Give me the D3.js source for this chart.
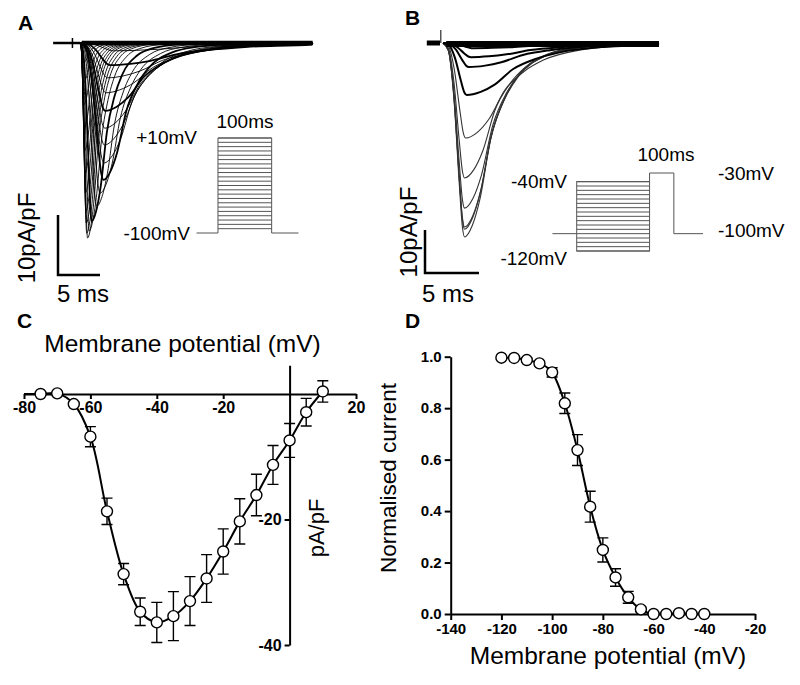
<!DOCTYPE html>
<html><head><meta charset="utf-8">
<script src="https://cdn.jsdelivr.net/npm/d3@7"></script>
<style>
body{margin:0;background:#fff}
svg{display:block}
text{font-family:'Liberation Sans',Arial,Helvetica,sans-serif;fill:#000}
</style>
</head><body><svg id="c" width="800" height="685"></svg>
<script>
// ---------------- DATA ----------------
// Panel A: current family (peak amplitude pA/pF, time to peak ms, half-decay ms)
const aAmp  = [1.3, 3.7, 5.8, 8.3, 11.3, 14.2, 17, 20, 22.8, 25, 27.2, 29.7, 31.3, 32.5, 31.7, 30, 28, 25, 21.7, 18, 14.2, 10.3, 6.7, 3.3];
const aPeak = [4.0, 3.6, 3.3, 3.1, 3.0, 2.95, 2.9, 2.85, 2.8, 2.4, 2.0, 1.4, 1.1, 0.9, 0.8, 0.75, 0.7, 0.65, 0.6, 0.55, 0.5, 0.45, 0.4, 0.4];
const aHalf = [9, 8, 6.5, 5.5, 4.6, 4.1, 3.7, 3.3, 2.7, 2.4, 2.1, 1.8, 1.5, 1.3, 1.2, 1.1, 1.0, 0.95, 0.9, 0.85, 0.8, 0.75, 0.7, 0.7];
const aBold = [1, 4, 8, 11];
// Panel A protocol (mV)
const aHold = -100;
const aSteps = [-95,-90,-85,-80,-75,-70,-65,-60,-55,-50,-45,-40,-35,-30,-25,-20,-15,-10,-5,0,5,10];

// Panel B: inactivation family
const bAmp  = [45.1, 43.3, 42.8, 38.4, 31.4, 22.1, 12.1, 5.6, 3.3, 1.2, 0.7, 0.5, 0.2, 0.1, 0, 0, 0];
const bPeak = [2.0, 2.0, 2.0, 2.0, 2.0, 2.1, 2.2, 2.4, 2.6, 2.8, 3, 3, 3, 3, 3, 3, 3];
const bHalf = [2.4, 2.45, 2.5, 2.6, 2.8, 3.6, 4.3, 5, 5.5, 6, 6, 6, 6, 6, 6, 6, 6];
// Panel B protocol (mV)
const bHold = -100;
const bPre = [-120,-115,-110,-105,-100,-95,-90,-85,-80,-75,-70,-65,-60,-55,-50,-45,-40];
const bTest = -30;

// Normalised trace shapes read from the records
const riseShape  = [[0,0],[0.25,0.04],[0.5,0.28],[0.75,0.72],[0.9,0.95],[1,1]];
const decayShape = [[0,1],[0.3,0.94],[0.6,0.8],[1,0.5],[1.5,0.3],[2,0.18],[3,0.07],[4,0.03],[6,0.006],[8,0]];

// Panel C: I-V
const cV   = [-75,-70,-65,-60,-55,-50,-45,-40,-35,-30,-25,-20,-15,-10,-5,0,5,10];
const cI   = [0, 0.1, -1.6, -6.8, -18.7, -28.7, -34.7, -36.4, -35.4, -33.0, -29.4, -25.1, -20.3, -16.1, -11.3, -7.4, -2.9, 0.4];
const cErr = [0.2, 0.2, 0.3, 1.6, 2.1, 1.7, 2.2, 3.2, 3.9, 3.9, 3.8, 3.6, 3.6, 3.3, 3.1, 2.7, 2.2, 1.7];
const cFitStart = [-80, 0];
const cXTicks = [-80, -60, -40, -20, 20];
const cYTicks = [-20, -40];

// Panel D: steady-state inactivation
const dV   = [-120,-115,-110,-105,-100,-95,-90,-85,-80,-75,-70,-65,-60,-55,-50,-45,-40];
const dI   = [0.996,0.995,0.987,0.974,0.939,0.819,0.637,0.417,0.249,0.142,0.065,0.018,0.0,0.0,0.003,0.0,0.0];
const dErr = [0.005,0.005,0.008,0.008,0.018,0.04,0.06,0.06,0.047,0.034,0.023,0.008,0.005,0.003,0.003,0.002,0.002];
const dXTicks = [-140,-120,-100,-80,-60,-40,-20];
const dYTicks = [0,0.2,0.4,0.6,0.8,1.0];

// ---------------- DRAW ----------------
const svg = d3.select('#c');
svg.append('rect').attr('width',800).attr('height',685).attr('fill','#fff');

function label(x, y, txt, size, opts={}) {
  const t = svg.append('text').attr('x',x).attr('y',y).text(txt)
    .style('font-size', size+'px');
  if (opts.bold) t.style('font-weight','bold');
  if (opts.anchor) t.attr('text-anchor', opts.anchor);
  if (opts.rot) t.attr('transform', `rotate(-90,${x},${y})`);
  return t;
}

function tracePts(amp, tp, th, t0, t1) {
  const pts = [[t0,0],[0,0]];
  riseShape.slice(1).forEach(([u,v]) => pts.push([u*tp, -v*amp]));
  decayShape.slice(1).forEach(([u,v]) => { const t = tp + u*th; if (t < t1) pts.push([t, -v*amp]); });
  pts.push([t1, 0]);
  return pts;
}

// ----- Panel A -----
label(18, 30, 'A', 21, {bold:true});
const xA = d3.scaleLinear().domain([0, 5]).range([80, 122]);   // ms
const yA = d3.scaleLinear().domain([0, -10]).range([43, 103]); // pA/pF
const lineA = d3.line().x(d => xA(d[0])).y(d => yA(d[1])).curve(d3.curveMonotoneX);
const gA = svg.append('g');
gA.append('line').attr('x1', xA(-3.2)).attr('x2', xA(0)).attr('y1', yA(0)).attr('y2', yA(0))
  .attr('stroke','#000').attr('stroke-width',2.5);
gA.append('line').attr('x1', xA(-0.9)).attr('x2', xA(-0.9)).attr('y1', yA(0)-5).attr('y2', yA(0)+5)
  .attr('stroke','#000').attr('stroke-width',1.5);
aAmp.forEach((amp,i) => {
  gA.append('path').attr('d', lineA(tracePts(amp, aPeak[i], aHalf[i], 0, 27.7)))
    .attr('fill','none').attr('stroke','#000')
    .attr('stroke-width', aBold.includes(i) ? 1.8 : 0.9);
});
gA.append('line').attr('x1', xA(0.2)).attr('x2', xA(27.7)).attr('y1', yA(0)).attr('y2', yA(0))
  .attr('stroke','#000').attr('stroke-width',4.5);
const sbA = {x: 58, y: 275};
gA.append('path').attr('d', `M${sbA.x},${sbA.y - (yA(-10)-yA(0))}V${sbA.y}H${sbA.x + xA(5)-xA(0)}`)
  .attr('fill','none').attr('stroke','#000').attr('stroke-width',2.5);
label(35, 238, '10pA/pF', 24, {rot:true, anchor:'middle'});
label(57, 302, '5 ms', 24);
// protocol A
const tPA = d3.scaleLinear().domain([-40, 150]).range([196.5, 298.5]);
const vPA = d3.scaleLinear().domain([-100, 10]).range([233, 138]);
const gPA = svg.append('g').attr('stroke','#555').attr('stroke-width',1).attr('fill','none');
gPA.append('path').attr('d', `M${tPA(-40)},${vPA(aHold)}H${tPA(0)}V${vPA(d3.max(aSteps))}H${tPA(100)}V${vPA(aHold)}H${tPA(150)}`);
aSteps.forEach(v => gPA.append('line').attr('x1',tPA(0)).attr('x2',tPA(100)).attr('y1',vPA(v)).attr('y2',vPA(v)));
label(245, 128, '100ms', 19, {anchor:'middle'});
label(197, 144, '+10mV', 19, {anchor:'end'});
label(190, 240, '-100mV', 19, {anchor:'end'});

// ----- Panel B -----
label(405, 25, 'B', 21, {bold:true});
const xB = d3.scaleLinear().domain([0, 5]).range([443, 497]);
const yB = d3.scaleLinear().domain([0, -10]).range([43, 86]);
const lineB = d3.line().x(d => xB(d[0])).y(d => yB(d[1])).curve(d3.curveMonotoneX);
const gB = svg.append('g');
gB.append('line').attr('x1', xB(-1.5)).attr('x2', xB(-0.28)).attr('y1', yB(0)).attr('y2', yB(0))
  .attr('stroke','#000').attr('stroke-width',5);
gB.append('line').attr('x1', xB(-0.2)).attr('x2', xB(-0.2)).attr('y1', yB(0)).attr('y2', yB(0)-13)
  .attr('stroke','#000').attr('stroke-width',1);
bAmp.forEach((amp,i) => {
  gB.append('path').attr('d', lineB(tracePts(amp, bPeak[i], bHalf[i], 0, 20)))
    .attr('fill','none').attr('stroke', amp > 20 ? '#333' : '#000')
    .attr('stroke-width', amp > 20 ? 1.1 : 2);
});
gB.append('line').attr('x1', xB(0.3)).attr('x2', xB(20)).attr('y1', yB(0)+1).attr('y2', yB(0)+1)
  .attr('stroke','#000').attr('stroke-width',6);
const sbB = {x: 425, y: 273};
gB.append('path').attr('d', `M${sbB.x},${sbB.y - (yB(-10)-yB(0))}V${sbB.y}H${sbB.x + xB(5)-xB(0)}`)
  .attr('fill','none').attr('stroke','#000').attr('stroke-width',2.5);
label(417, 232, '10pA/pF', 24, {rot:true, anchor:'middle'});
label(422, 302, '5 ms', 24);
// protocol B
const tPB = d3.scaleLinear().domain([-100, 520]).range([552.4, 703]);
const vPB = d3.scaleLinear().domain([-120, -30]).range([251, 173]);
const gPB = svg.append('g').attr('stroke','#555').attr('stroke-width',1).attr('fill','none');
gPB.append('path').attr('d', `M${tPB(-100)},${vPB(bHold)}H${tPB(0)}`);
gPB.append('rect').attr('x', tPB(0)).attr('y', vPB(d3.max(bPre))).attr('width', tPB(300)-tPB(0))
  .attr('height', vPB(d3.min(bPre)) - vPB(d3.max(bPre)));
bPre.forEach(v => gPB.append('line').attr('x1',tPB(0)).attr('x2',tPB(300)).attr('y1',vPB(v)).attr('y2',vPB(v)));
gPB.append('path').attr('d', `M${tPB(300)},${vPB(-40)}V${vPB(bTest)}H${tPB(400)}V${vPB(bHold)}H${tPB(520)}`);
label(666, 161, '100ms', 19, {anchor:'middle'});
label(567, 188, '-40mV', 19, {anchor:'end'});
label(567, 265, '-120mV', 19, {anchor:'end'});
label(718, 180, '-30mV', 19);
label(718, 237, '-100mV', 19);

// ----- Panel C -----
label(17, 328, 'C', 21, {bold:true});
const xC = d3.scaleLinear().domain([-80, 20]).range([24, 356]);
const yC = d3.scaleLinear().domain([0, -40]).range([394, 645]);
const gC = svg.append('g');
const xAxC = d3.axisBottom(xC).tickValues(cXTicks).tickSize(5).tickSizeOuter(0).tickFormat(d => String(d));
gC.append('g').attr('transform', `translate(0,${yC(0)})`).call(xAxC);
const yCax = d3.scaleLinear().domain([4.6, -40]).range([yC(4.6), yC(-40)]);
const yAxC = d3.axisLeft(yCax).tickValues(cYTicks).tickSize(5).tickSizeOuter(0).tickFormat(d => String(d));
gC.append('g').attr('transform', `translate(${xC(0)},0)`).call(yAxC);
gC.selectAll('.domain, .tick line').attr('stroke','#000').attr('stroke-width',2);
gC.selectAll('.tick text').style('font-size','16px').style('font-weight','bold')
  .style('font-family',"'Liberation Sans',Arial,sans-serif").attr('fill','#000');
label(182.5, 352, 'Membrane potential (mV)', 24.5, {anchor:'middle'});
label(324, 528, 'pA/pF', 22, {rot:true, anchor:'middle'});
const fitC = [cFitStart].concat(cV.map((v,i) => [v, cI[i]]));
gC.append('path').attr('d', d3.line().x(d => xC(d[0])).y(d => yC(d[1])).curve(d3.curveCatmullRom.alpha(0.5))(fitC))
  .attr('fill','none').attr('stroke','#000').attr('stroke-width',2);
function errBars(g, xs, ys, es, xS, yS) {
  xs.forEach((v,i) => {
    const x = xS(v), y1 = yS(ys[i] - es[i]), y2 = yS(ys[i] + es[i]);
    g.append('path').attr('d', `M${x},${y1}V${y2}M${x-5.5},${y1}H${x+5.5}M${x-5.5},${y2}H${x+5.5}`)
      .attr('stroke','#000').attr('stroke-width',1.4).attr('fill','none');
  });
  xs.forEach((v,i) => {
    g.append('circle').attr('cx', xS(v)).attr('cy', yS(ys[i])).attr('r',5.5)
      .attr('fill','#fff').attr('stroke','#000').attr('stroke-width',1.4);
  });
}
errBars(gC, cV, cI, cErr, xC, yC);

// ----- Panel D -----
label(405, 328, 'D', 21, {bold:true});
const xD = d3.scaleLinear().domain([-140, -20]).range([450.7, 755]);
const yD = d3.scaleLinear().domain([0, 1]).range([614, 356.7]);
const gD = svg.append('g');
gD.append('g').attr('transform', `translate(0,${yD(0)})`)
  .call(d3.axisBottom(xD).tickValues(dXTicks).tickSize(6).tickSizeOuter(0).tickFormat(d => String(d)));
gD.append('g').attr('transform', `translate(${xD(-140)},0)`)
  .call(d3.axisLeft(yD).tickValues(dYTicks).tickSize(6).tickSizeOuter(0).tickFormat(d => d.toFixed(1)));
gD.selectAll('.domain, .tick line').attr('stroke','#000').attr('stroke-width',2);
gD.selectAll('.tick text').style('font-size','15px').style('font-weight','bold')
  .style('font-family',"'Liberation Sans',Arial,sans-serif").attr('fill','#000');
label(608, 664, 'Membrane potential (mV)', 24.5, {anchor:'middle'});
label(396, 478, 'Normalised current', 22.5, {rot:true, anchor:'middle'});
gD.append('path').attr('d', d3.line().x((v,i) => xD(v)).y((v,i) => yD(dI[i])).curve(d3.curveMonotoneX)(dV))
  .attr('fill','none').attr('stroke','#000').attr('stroke-width',2);
errBars(gD, dV, dI, dErr, xD, yD);
</script>
</body></html>
